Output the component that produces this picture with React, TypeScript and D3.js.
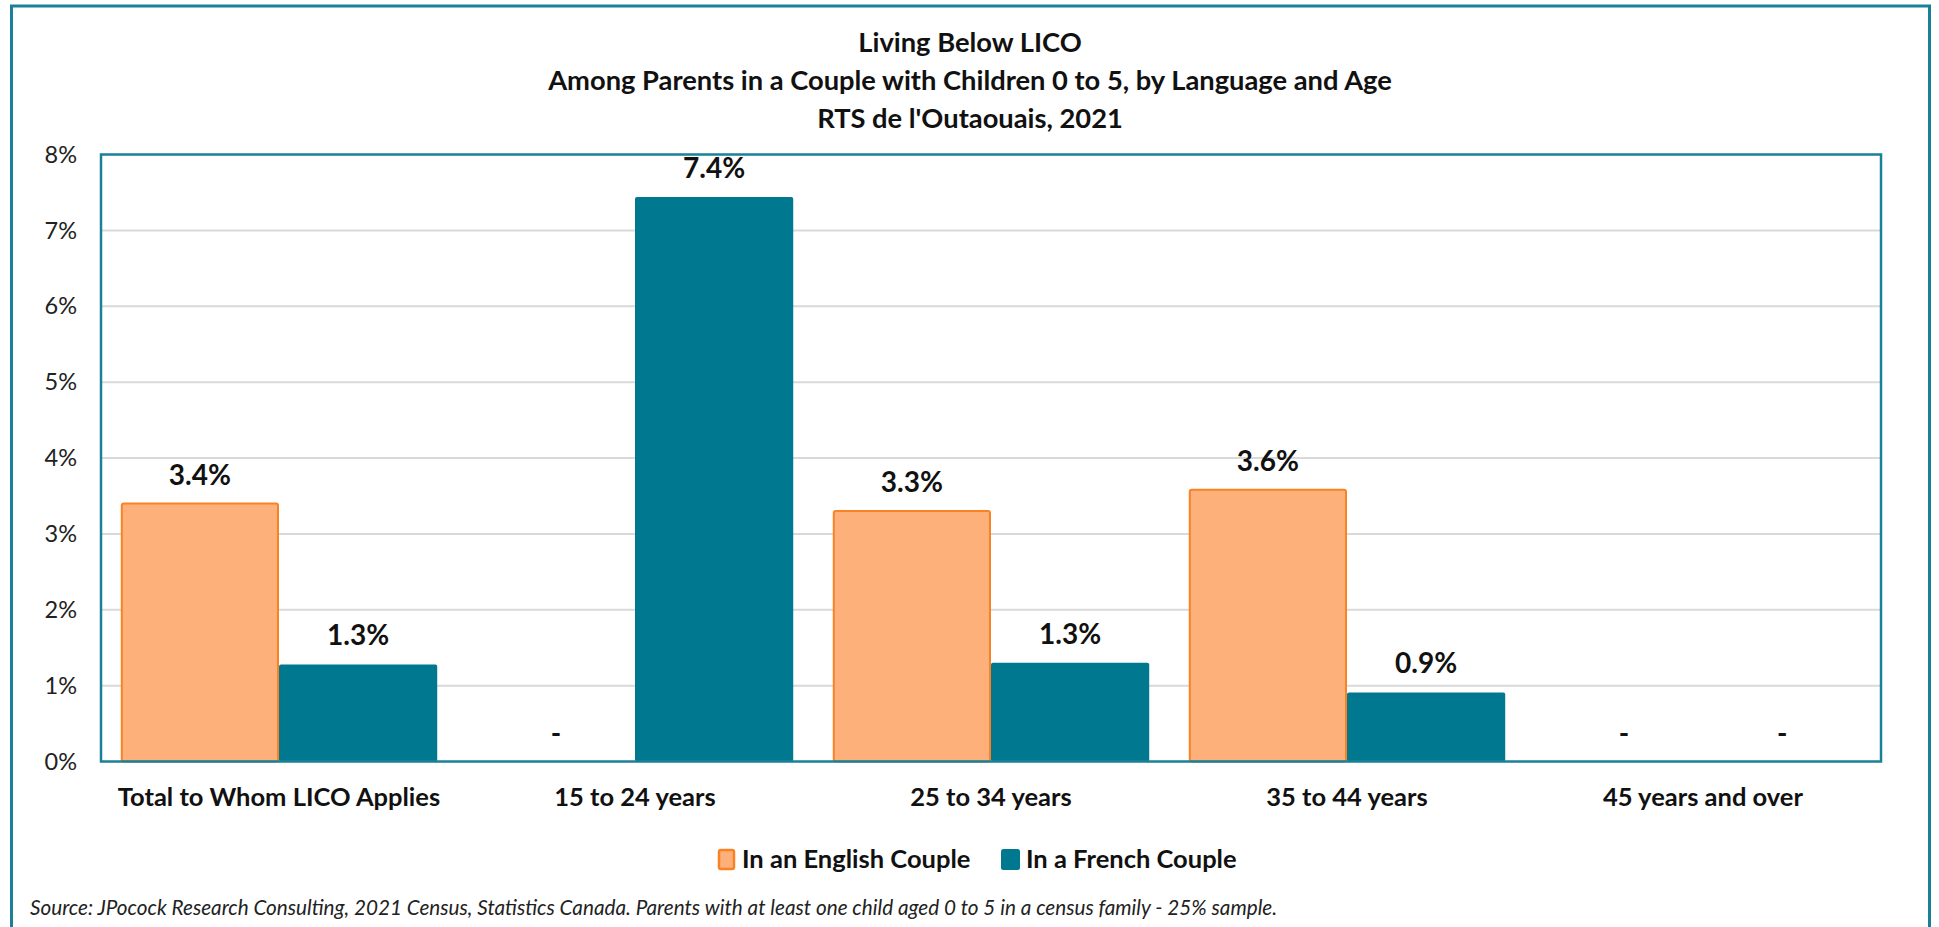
import React from "react";
import * as d3 from "d3";

const categories = [
  "Total to Whom LICO Applies",
  "15 to 24 years",
  "25 to 34 years",
  "35 to 44 years",
  "45 years and over",
];
const seriesNames = ["In an English Couple", "In a French Couple"];
const englishValues = [3.4, 0, 3.3, 3.58, 0];
const frenchValues = [1.28, 7.44, 1.3, 0.91, 0];
const yTicks = [0, 1, 2, 3, 4, 5, 6, 7, 8];
const titleLines = [
  "Living Below LICO",
  "Among Parents in a Couple with Children 0 to 5, by Language and Age",
  "RTS de l'Outaouais, 2021",
];
const sourceText =
  "Source: JPocock Research Consulting, 2021 Census, Statistics Canada. Parents with at least one child aged 0 to 5 in a census family - 25% sample.";

const W = 1939;
const H = 927;
const FONT = "Lato, 'Open Sans', sans-serif";
const TEAL = "#00788f";
const FRAME = "#1a8098";
const ORANGE_FILL = "#feb07a";
const ORANGE_STROKE = "#f98224";

export default function App() {
  const plot = { l: 101, r: 1881, t: 154.5, b: 761.5 };
  const x0 = d3.scaleBand<string>().domain(categories).range([plot.l, plot.r]).padding(0);
  const x1 = d3
    .scaleBand<string>()
    .domain(seriesNames)
    .range([0, x0.bandwidth()])
    .paddingInner(0)
    .paddingOuter(0.125);
  const y = d3.scaleLinear().domain([0, 8]).range([plot.b, plot.t]);
  const seriesData = [englishValues, frenchValues];
  const fmt = (v: number) => (v === 0 ? "-" : `${v.toFixed(1)}%`);

  return (
    <svg
      width={W}
      height={H}
      style={{ position: "absolute", left: 0, top: 0, background: "#fff" }}
      fontFamily={FONT}
    >
      <rect x={0} y={0} width={W} height={H} fill="#fff" />
      {/* outer frame */}
      <rect x={11.5} y={6} width={1918} height={940} fill="none" stroke={FRAME} strokeWidth={3} />

      {/* title */}
      {titleLines.map((t, i) => (
        <text
          key={i}
          x={970}
          y={52 + i * 38}
          textAnchor="middle"
          fontWeight="bold"
          fontSize={27.3}
          fill="#111"
        >
          {t}
        </text>
      ))}

      {/* gridlines */}
      {yTicks.slice(1, -1).map((t) => (
        <line
          key={t}
          x1={plot.l}
          x2={plot.r}
          y1={y(t)}
          y2={y(t)}
          stroke="#d9d9d9"
          strokeWidth={2}
        />
      ))}

      {/* y tick labels */}
      {yTicks.map((t) => (
        <text
          key={t}
          x={77}
          y={y(t)}
          dy="0.35em"
          textAnchor="end"
          fontSize={23.5}
          fill="#222"
        >
          {`${t}%`}
        </text>
      ))}

      {/* bars */}
      {categories.map((c, ci) => (
        <g key={c} transform={`translate(${x0(c)},0)`}>
          {seriesNames.map((s, si) => {
            const v = seriesData[si][ci];
            const bx = x1(s)!;
            const bw = x1.bandwidth();
            const top = y(v);
            return (
              <g key={s}>
                {v > 0 && (
                  <rect
                    x={bx + (si === 0 ? 1 : 0)}
                    y={top}
                    width={bw - (si === 0 ? 2 : 0)}
                    height={plot.b - top}
                    rx={2}
                    fill={si === 0 ? ORANGE_FILL : TEAL}
                    stroke={si === 0 ? ORANGE_STROKE : "none"}
                    strokeWidth={si === 0 ? 2 : 0}
                  />
                )}
                <text
                  x={bx + bw / 2}
                  y={top - 19}
                  textAnchor="middle"
                  fontWeight="bold"
                  fontSize={28}
                  fill="#111"
                >
                  {fmt(v)}
                </text>
              </g>
            );
          })}
        </g>
      ))}

      {/* plot border */}
      <rect
        x={plot.l}
        y={plot.t}
        width={plot.r - plot.l}
        height={plot.b - plot.t}
        fill="none"
        stroke={FRAME}
        strokeWidth={2.5}
      />

      {/* category labels */}
      {categories.map((c) => (
        <text
          key={c}
          x={x0(c)! + x0.bandwidth() / 2}
          y={806}
          textAnchor="middle"
          fontWeight="bold"
          fontSize={25.5}
          fill="#111"
        >
          {c}
        </text>
      ))}

      {/* legend */}
      <g>
        <rect x={719} y={850} width={15} height={19} rx={2} fill={ORANGE_FILL} stroke={ORANGE_STROKE} strokeWidth={2.5} />
        <text x={742} y={868} fontWeight="bold" fontSize={25.5} fill="#111">
          {seriesNames[0]}
        </text>
        <rect x={1001} y={849} width={19} height={21} rx={2.5} fill={TEAL} />
        <text x={1026} y={868} fontWeight="bold" fontSize={25.5} fill="#111">
          {seriesNames[1]}
        </text>
      </g>

      {/* source */}
      <text x={30} y={915} fontStyle="italic" fontSize={20.7} fill="#222">
        {sourceText}
      </text>
    </svg>
  );
}
